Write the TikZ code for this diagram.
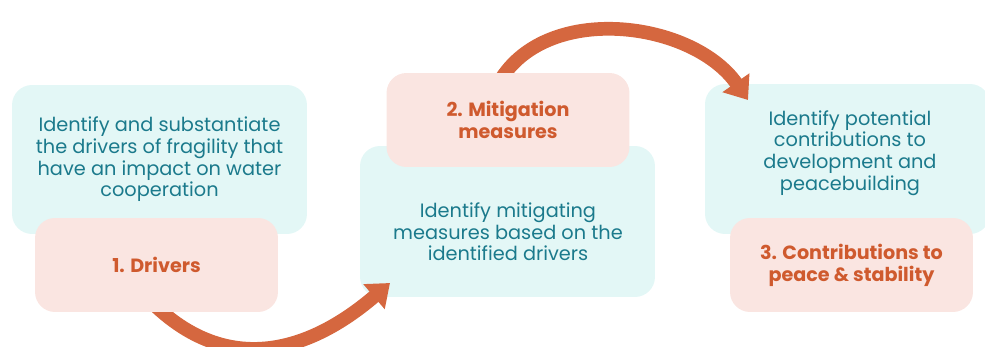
\documentclass[tikz,border=0pt]{standalone}
\usepackage{fontspec}
\setmainfont{Poppins}
\usepackage{tikz}
\usetikzlibrary{arrows.meta,positioning}
\definecolor{tealfill}{HTML}{E3F7F6}
\definecolor{pinkfill}{HTML}{FAE5E1}
\definecolor{tealtext}{HTML}{1B7A8C}
\definecolor{orangetext}{HTML}{CF5A2E}
\definecolor{arrowcol}{HTML}{D5673F}
\tikzset{
  workbox/.style={fill=tealfill, rounded corners=0.4cm, align=center,
    text=tealtext, font=\fontsize{11}{12.3}\selectfont},
  stagebox/.style={fill=pinkfill, rounded corners=0.4cm, align=center,
    text=orangetext, font=\fontsize{10.9}{12.5}\selectfont\bfseries,
    minimum width=4.86cm, minimum height=1.88cm},
  bigarrow/.style={draw=arrowcol, line width=7.8pt,
    -{Triangle[length=12pt,width=18pt]}}
}

\begin{document}
\begin{tikzpicture}[x=0.02cm,y=0.02cm]
   \useasboundingbox (0,0) rectangle (985,-347);
   % work boxes
   \node[workbox, minimum width=5.9cm, minimum height=2.98cm] (drivwork) at (159.5,-159.5)
      {Identify and substantiate\\the drivers of fragility that\\have an impact on water\\cooperation};
   \node[workbox, minimum width=5.9cm, minimum height=3.02cm] (mitwork) at (507.5,-221.5) {};
   \node[workbox] (mittext) at (508,-232)
      {Identify mitigating\\measures based on the\\identified drivers};
   \node[workbox, minimum width=5.7cm, minimum height=3cm] (contwork) at (847.5,-159) {};
   \node[workbox] (conttext) at (850,-153)
      {Identify potential\\contributions to\\development and\\peacebuilding};
   % arrows
   \coordinate (a1start) at (140,-290);
   \coordinate (a1end) at (390,-283);
   \coordinate (a2start) at (495,-90);
   \coordinate (a2end) at (748,-100);
   \draw[bigarrow] (a1start) .. controls (215,-375) and (300,-360) .. (a1end);
   \draw[bigarrow] (a2start) to[out=65,in=125] (a2end);
   % stage boxes
   \node[stagebox] (drivers) at (156.5,-265) {1. Drivers};
   \node[stagebox] (mitigation) at (508,-120) {2. Mitigation\\measures};
   \node[stagebox] (contrib) at (851.5,-265) {3. Contributions to\\peace \& stability};
\end{tikzpicture}
\end{document}
